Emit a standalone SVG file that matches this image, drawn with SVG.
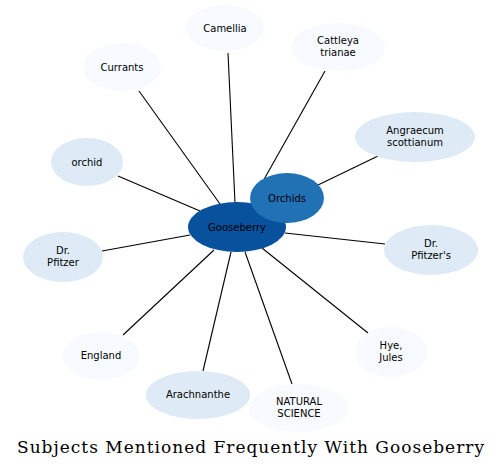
<svg xmlns="http://www.w3.org/2000/svg" width="501" height="469" viewBox="0 0 501 469">
<style>
.e{stroke:#000;stroke-width:1.1;fill:none}
.l0{fill:#f7fbff}
.l1{fill:#deebf7}
text{font-family:"DejaVu Sans",sans-serif;font-size:10px;fill:#000;text-anchor:middle}
.t{font-family:"DejaVu Serif",serif;font-size:17px}
</style>
<rect width="501" height="469" fill="#fff"/>
<g id="edges">
<line class="e" x1="228" y1="53" x2="235" y2="203"/>
<line class="e" x1="325" y1="71" x2="262" y2="183"/>
<line class="e" x1="139" y1="91" x2="220" y2="204"/>
<line class="e" x1="378" y1="156" x2="318" y2="185"/>
<line class="e" x1="118" y1="176" x2="200" y2="211"/>
<line class="e" x1="102" y1="251" x2="190" y2="235"/>
<line class="e" x1="385" y1="244" x2="285" y2="233"/>
<line class="e" x1="123" y1="335" x2="214" y2="250"/>
<line class="e" x1="368" y1="333" x2="262" y2="248"/>
<line class="e" x1="203" y1="371" x2="231" y2="252"/>
<line class="e" x1="292" y1="384" x2="245" y2="252"/>
</g>
<g id="camellia"><ellipse class="l0" cx="225" cy="28" rx="39" ry="23"/><text x="225" y="32">Camellia</text></g>
<g id="cattleya"><ellipse class="l0" cx="338" cy="47" rx="47" ry="24"/><text x="338" y="44">Cattleya</text><text x="338" y="56">trianae</text></g>
<g id="currants"><ellipse class="l0" cx="122" cy="67" rx="39" ry="24"/><text x="122" y="71">Currants</text></g>
<g id="angraecum"><ellipse class="l1" cx="415" cy="137" rx="60" ry="25"/><text x="415" y="134">Angraecum</text><text x="415" y="146">scottianum</text></g>
<g id="orchid"><ellipse class="l1" cx="87" cy="162" rx="36" ry="24"/><text x="87" y="166">orchid</text></g>
<g id="gooseberry"><ellipse fill="#08519c" cx="237" cy="227" rx="49" ry="25"/><text x="237" y="231">Gooseberry</text></g>
<g id="orchids"><ellipse fill="#2171b5" cx="287" cy="198" rx="37" ry="25"/><text x="287" y="202">Orchids</text></g>
<g id="drpfitzer"><ellipse class="l1" cx="63" cy="257" rx="40" ry="25"/><text x="63" y="254">Dr.</text><text x="63" y="266">Pfitzer</text></g>
<g id="drpfitzers"><ellipse class="l1" cx="431" cy="250" rx="47" ry="25"/><text x="431" y="247">Dr.</text><text x="431" y="259">Pfitzer's</text></g>
<g id="england"><ellipse class="l0" cx="101" cy="356" rx="38" ry="24"/><text x="101" y="359">England</text></g>
<g id="hyejules"><ellipse class="l0" cx="391" cy="352" rx="36" ry="25"/><text x="391" y="349">Hye,</text><text x="391" y="361">Jules</text></g>
<g id="arachnanthe"><ellipse class="l1" cx="198" cy="395" rx="52" ry="24"/><text x="198" y="398">Arachnanthe</text></g>
<g id="natural"><ellipse class="l0" cx="299" cy="408" rx="50" ry="24"/><text x="299" y="405">NATURAL</text><text x="299" y="417">SCIENCE</text></g>
<text class="t" x="250.5" y="453" textLength="467" lengthAdjust="spacing">Subjects Mentioned Frequently With Gooseberry</text>
</svg>
